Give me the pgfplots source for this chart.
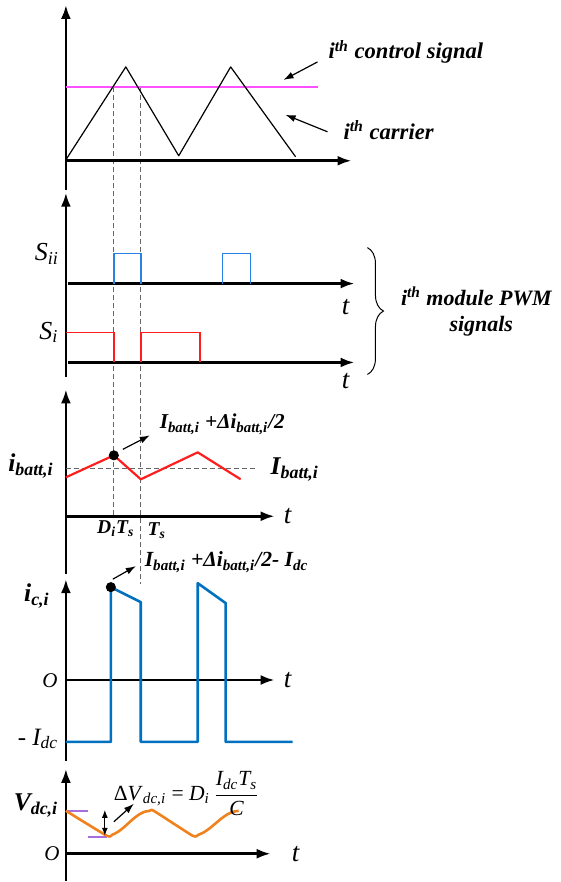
\documentclass[border=0pt]{standalone}
\usepackage{pgfplots}
\pgfplotsset{compat=1.18}
\usepackage{fontspec}
\setmainfont{Liberation Serif}
\usetikzlibrary{arrows.meta,decorations.pathreplacing}
\newcommand{\sub}[1]{\textsubscript{#1}}
\definecolor{mag}{RGB}{255,80,255}
\definecolor{sblue}{RGB}{40,130,230}
\definecolor{sred}{RGB}{255,30,30}
\definecolor{cblue}{RGB}{0,112,192}
\definecolor{orng}{RGB}{240,130,30}
\definecolor{purp}{RGB}{170,110,220}
\tikzset{
  ax/.style={line width=1.3pt,-{Latex[length=7pt,width=5pt]}},
  ann/.style={line width=0.6pt,-{Latex[length=5pt,width=3.5pt]}},
  dsh/.style={gray!80!black,line width=0.4pt,dash pattern=on 2.5pt off 1.5pt},
  bi/.style={font=\bfseries\itshape\fontsize{#1}{#1}\selectfont},
  it/.style={font=\itshape\fontsize{#1}{#1}\selectfont},
}
\begin{document}
\begin{tikzpicture}
\begin{axis}[width=280.5pt,height=441pt,scale only axis,
  xmin=0,xmax=561,ymin=0,ymax=882,y dir=reverse,hide axis,clip=false]
\addplot[draw=none] coordinates {(0,0) (561,882)};
% dashed guides
\addplot[dsh] coordinates {(114,87) (114,517)};
\addplot[dsh] coordinates {(141,87) (141,585)};
% ---------- panel 1 ----------
\addplot[ax] coordinates {(66,190) (66,5)};
\addplot[ax] coordinates {(66,161) (352,161)};
\addplot[mag,line width=1pt] coordinates {(66,87) (318,87)};
\addplot[black,line width=0.6pt,line join=round] coordinates {(66,160) (126,67) (179,156) (231,67) (296,157)};
\node[bi=11.3,anchor=west] at (axis cs:322,52) {i\textsuperscript{th} control signal};
\node[bi=11.3,anchor=west] at (axis cs:337,130) {i\textsuperscript{th} carrier};
\draw[ann] (axis cs:318,62) -- (axis cs:284,80);
\draw[ann] (axis cs:328,132) -- (axis cs:286,115);
% ---------- panel 2 ----------
\addplot[ax] coordinates {(66,378) (66,193)};
\addplot[ax] coordinates {(68,284) (355,284)};
\addplot[ax] coordinates {(68,363) (355,363)};
\addplot[sblue,line width=0.8pt] coordinates {(114,284) (114,254) (141,254) (141,284)};
\addplot[sblue,line width=0.8pt] coordinates {(223,284) (223,254) (251,254) (251,284)};
\addplot[sred,line width=0.8pt] coordinates {(66,333) (114,333) (114,363)};
\addplot[sred,line width=0.8pt] coordinates {(141,363) (141,333) (200,333) (200,363)};
\node[it=13] at (axis cs:47,254) {S\sub{ii}};
\node[it=13] at (axis cs:49,333) {S\sub{i}};
\node[it=13.5] at (axis cs:346,307) {t};
\node[it=13.5] at (axis cs:346,382) {t};
\draw[decorate,decoration={brace,amplitude=8pt},line width=0.5pt] (axis cs:368,248) -- (axis cs:368,375);
\node[bi=11] at (axis cs:477,297) {i\textsuperscript{th} module PWM};
\node[bi=11] at (axis cs:482,327) {signals};
% ---------- panel 3 ----------
\addplot[ax] coordinates {(66,575) (66,390)};
\addplot[ax] coordinates {(66,517) (275,517)};
\addplot[dsh] coordinates {(66,469) (257,469)};
\addplot[sred,line width=1.1pt,line join=round] coordinates {(66,478) (114,456) (141,480) (198,453) (241,480)};
\addplot[only marks,mark=*,mark size=2.3pt,black] coordinates {(114,456)};
\node[bi=12.8] at (axis cs:31,467) {i\sub{batt,i}};
\node[bi=12.8,anchor=west] at (axis cs:264,470) {I\sub{batt,i}};
\node[bi=10.6,anchor=west] at (axis cs:153,425) {I\sub{batt,i} +Δi\sub{batt,i}/2};
\draw[ann] (axis cs:123,450) -- (axis cs:150,436);
\node[bi=9.8] at (axis cs:116,529) {D\sub{i}T\sub{s}};
\node[bi=9.8] at (axis cs:157,531) {T\sub{s}};
\node[it=13.5] at (axis cs:288,517) {t};
% ---------- panel 4 ----------
\addplot[ax] coordinates {(66,762) (66,580)};
\addplot[ax] coordinates {(66,681) (275,681)};
\addplot[cblue,line width=1.3pt,line join=round] coordinates {(66,743) (111,743) (111,588) (141,603) (141,743) (198,743) (198,584) (226,604) (226,743) (293,743)};
\addplot[only marks,mark=*,mark size=2.3pt,black] coordinates {(111,588)};
\node[bi=10.8,anchor=west] at (axis cs:138,563) {I\sub{batt,i} +Δi\sub{batt,i}/2- I\sub{dc}};
\draw[ann] (axis cs:113,580) -- (axis cs:136,567);
\node[bi=12.8] at (axis cs:37,597) {i\sub{c,i}};
\node[it=10.5] at (axis cs:50,682) {O};
\node[it=12.5] at (axis cs:38,740) {- I\sub{dc}};
\node[it=13.5] at (axis cs:288,681) {t};
% ---------- panel 5 ----------
\addplot[ax] coordinates {(66,882) (66,770)};
\addplot[ax] coordinates {(66,855) (271,855)};
\addplot[purp,line width=0.8pt] coordinates {(66,812) (88,812)};
\addplot[purp,line width=0.8pt] coordinates {(88,838) (107,838)};
\addplot[orng,line width=1.3pt,line join=round,smooth,tension=0.3] coordinates {
 (66,812) (107,837) (112.4,836.0) (117.75,833.3) (123.1,829.3) (128.5,824.5)
 (133.9,819.7) (139.25,815.7) (144.6,813.0) (150,812) (154,812) (193,837)
 (198.75,836.0) (204.5,833.3) (210.25,829.3) (216,824.5) (221.75,819.7)
 (227.5,815.7) (233.25,813.0) (239,812)};
\draw[line width=0.6pt,{Latex[length=4pt,width=3pt]}-{Latex[length=4pt,width=3pt]}] (axis cs:105,811) -- (axis cs:105,837);
\draw[ann] (axis cs:114,823) -- (axis cs:134,805);
\node[bi=12.8] at (axis cs:36,807) {V\sub{dc,i}};
\node[it=10.5] at (axis cs:52,855) {O};
\node[it=13.5] at (axis cs:296,855) {t};
\node[font=\fontsize{10.8}{11}\selectfont] at (axis cs:187,795)
 {Δ\textit{V}\sub{\itshape dc,i} = \textit{D}\sub{\itshape i}\,$\displaystyle\frac{\hbox{\itshape I\sub{dc}T\sub{s}}}{\hbox{\itshape C}}$};
\end{axis}
\end{tikzpicture}
\end{document}
